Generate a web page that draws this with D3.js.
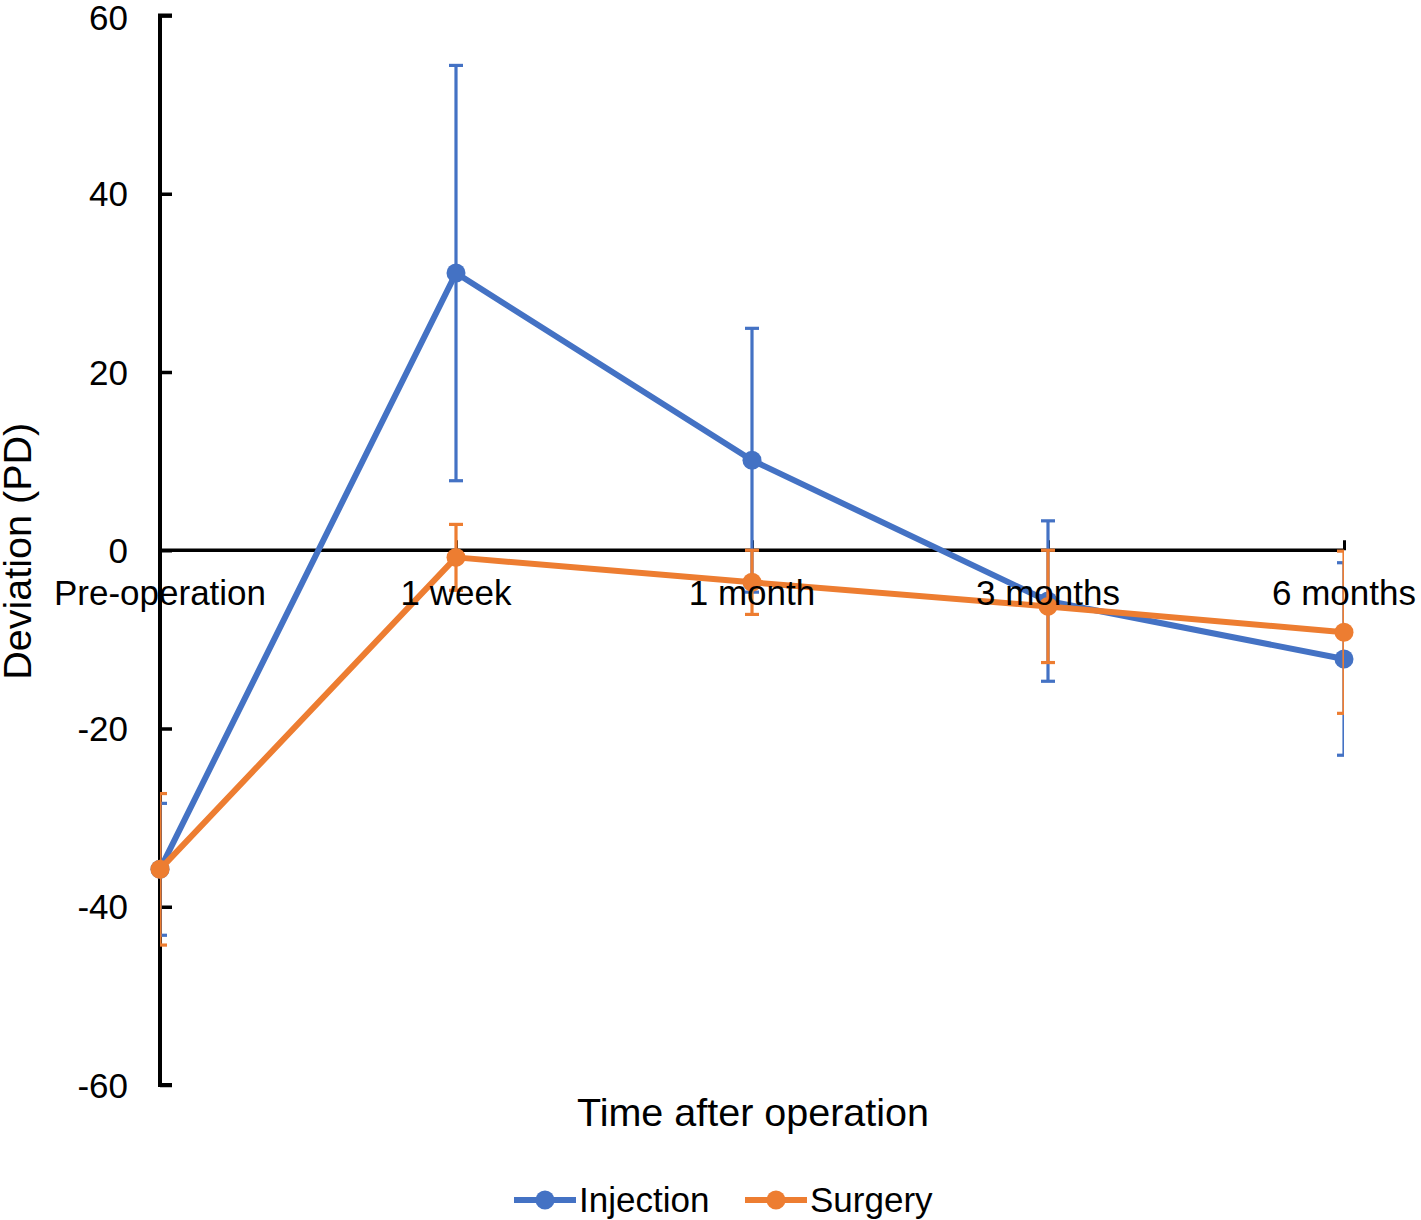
<!DOCTYPE html>
<html>
<head>
<meta charset="utf-8">
<script src="https://cdn.jsdelivr.net/npm/d3@7"></script>
<style>
  body { margin: 0; background: #fff; }
  text { font-family: "Liberation Sans", Arial, sans-serif; fill: #000; }
</style>
</head>
<body>
<div id="chart"></div>
<script>
// values
const categories = ['Pre-operation', '1 week', '1 month', '3 months', '6 months'];
const injectionMean = [-35.8, 31.1, 10.1, -5.7, -12.2];
const injectionErr  = [7.4, 23.3, 14.8, 9.0, 10.8];
const surgeryMean   = [-35.8, -0.8, -3.6, -6.3, -9.2];
const surgeryErr    = [8.5, 3.7, 3.6, 6.3, 9.1];
const yTicks = [-60, -40, -20, 0, 20, 40, 60];

const width  = 1421;
const height = 1220;

const series = [
  { name: 'Injection', color: '#4472C4', mean: injectionMean, err: injectionErr },
  { name: 'Surgery',   color: '#ED7D31', mean: surgeryMean,   err: surgeryErr }
];

const x = d3.scalePoint().domain(categories).range([160, 1344]);
const y = d3.scaleLinear().domain([-60, 60]).range([1085, 15.5]);

const svg = d3.select('#chart').append('svg')
  .attr('width', width)
  .attr('height', height);

// clip for error bars (caps are cut at the plot edges)
svg.append('defs').append('clipPath').attr('id', 'plot')
  .append('rect')
  .attr('x', x.range()[0]).attr('y', 0)
  .attr('width', x.range()[1] - x.range()[0]).attr('height', height);

// y axis
const yAxis = svg.append('g')
  .attr('transform', `translate(${x.range()[0]},0)`)
  .call(d3.axisRight(y).tickValues(yTicks).tickSize(12).tickFormat(''));
yAxis.select('.domain').attr('d', `M12,${y(60)}H0V${y(-60)}H12`).attr('stroke-width', 4);
yAxis.selectAll('.tick line').attr('stroke-width', 3.5);

svg.selectAll('.ylab')
  .data(yTicks)
  .enter()
  .append('text')
  .attr('class', 'ylab')
  .attr('x', 128)
  .attr('y', d => Math.max(y(d), 17))
  .attr('dy', '0.36em')
  .attr('text-anchor', 'end')
  .style('font-size', '35px')
  .text(d => d);

// x axis at zero
const xAxis = svg.append('g')
  .attr('transform', `translate(0,${y(0)})`)
  .call(d3.axisTop(x).tickSize(10).tickFormat(''));
xAxis.select('.domain').attr('d', `M${x.range()[0]},0H${x.range()[1]}`).attr('stroke-width', 3.5);
xAxis.selectAll('.tick line').attr('stroke-width', 3);

// series
const line = d3.line()
  .x((d, i) => x(categories[i]))
  .y(d => y(d));

series.forEach(s => {
  const g = svg.append('g');
  const eb = g.append('g').attr('clip-path', 'url(#plot)')
    .attr('stroke', s.color)
    .attr('stroke-width', 3.2);
  s.mean.forEach((m, i) => {
    const cx = x(categories[i]);
    const top = y(m + s.err[i]);
    const bot = y(m - s.err[i]);
    eb.append('line').attr('x1', cx).attr('x2', cx).attr('y1', top).attr('y2', bot);
    eb.append('line').attr('x1', cx - 7).attr('x2', cx + 7).attr('y1', top).attr('y2', top);
    eb.append('line').attr('x1', cx - 7).attr('x2', cx + 7).attr('y1', bot).attr('y2', bot);
  });
  g.append('path')
    .datum(s.mean)
    .attr('d', line)
    .attr('fill', 'none')
    .attr('stroke', s.color)
    .attr('stroke-width', 6)
    .attr('stroke-linejoin', 'round');
  g.selectAll('circle')
    .data(s.mean)
    .enter()
    .append('circle')
    .attr('cx', (d, i) => x(categories[i]))
    .attr('cy', d => y(d))
    .attr('r', 9.5)
    .attr('fill', s.color);
});

// category labels (drawn over the lines, as in the original)
svg.selectAll('.xlab')
  .data(categories)
  .enter()
  .append('text')
  .attr('class', 'xlab')
  .attr('x', d => x(d))
  .attr('y', 605)
  .attr('text-anchor', 'middle')
  .style('font-size', '35px')
  .text(d => d);

// axis titles
svg.append('text')
  .attr('x', 753)
  .attr('y', 1126)
  .attr('text-anchor', 'middle')
  .style('font-size', '39.5px')
  .text('Time after operation');

svg.append('text')
  .attr('transform', `translate(31,${y(0) + 1}) rotate(-90)`)
  .attr('text-anchor', 'middle')
  .style('font-size', '39.5px')
  .text('Deviation (PD)');

// legend
const legend = svg.append('g');
const legX = [514, 745];
series.forEach((s, i) => {
  const lg = legend.append('g').attr('transform', `translate(${legX[i]},1200)`);
  lg.append('line').attr('x1', 0).attr('x2', 62).attr('y1', 0).attr('y2', 0)
    .attr('stroke', s.color).attr('stroke-width', 6);
  lg.append('circle').attr('cx', 31).attr('cy', 0).attr('r', 9.5).attr('fill', s.color);
  lg.append('text').attr('x', 65).attr('y', 12)
    .style('font-size', '35px')
    .text(s.name);
});
</script>
</body>
</html>
